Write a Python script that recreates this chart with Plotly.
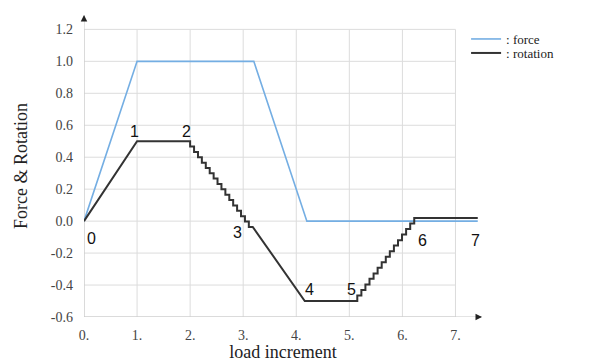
import plotly.graph_objects as go

# ---- data ----
x_ticks = [0, 1, 2, 3, 4, 5, 6, 7]
x_tick_labels = ["0.", "1.", "2.", "3.", "4.", "5.", "6.", "7."]
y_ticks = [-0.6, -0.4, -0.2, 0.0, 0.2, 0.4, 0.6, 0.8, 1.0, 1.2]
y_tick_labels = ["-0.6", "-0.4", "-0.2", "0.0", "0.2", "0.4", "0.6", "0.8", "1.0", "1.2"]

force_x = [0.0, 1.0, 3.2, 4.2, 7.42]
force_y = [0.0, 1.0, 1.0, 0.0, 0.0]

rotation_x = [0.0, 1.0, 2.0,
              2.000, 2.074, 2.074, 2.148, 2.148, 2.221, 2.221, 2.295,
              2.295, 2.369, 2.369, 2.443, 2.443, 2.516, 2.516, 2.590,
              2.590, 2.664, 2.664, 2.738, 2.738, 2.811, 2.811, 2.885,
              2.885, 2.959, 2.959, 3.033, 3.033, 3.106, 3.106, 3.180,
              4.16, 5.15,
              5.150, 5.227, 5.227, 5.303, 5.303, 5.380, 5.380, 5.457,
              5.457, 5.533, 5.533, 5.610, 5.610, 5.687, 5.687, 5.763,
              5.763, 5.840, 5.840, 5.917, 5.917, 5.993, 5.993, 6.070,
              6.070, 6.147, 6.147, 6.223, 6.223, 6.300,
              7.42]
rotation_y = [0.0, 0.5, 0.5,
              0.467, 0.467, 0.433, 0.433, 0.400, 0.400, 0.366, 0.366,
              0.333, 0.333, 0.299, 0.299, 0.266, 0.266, 0.232, 0.232,
              0.199, 0.199, 0.165, 0.165, 0.132, 0.132, 0.098, 0.098,
              0.065, 0.065, 0.031, 0.031, -0.002, -0.002, -0.036, -0.036,
              -0.50, -0.50,
              -0.465, -0.465, -0.431, -0.431, -0.396, -0.396, -0.361, -0.361,
              -0.327, -0.327, -0.292, -0.292, -0.257, -0.257, -0.223, -0.223,
              -0.188, -0.188, -0.153, -0.153, -0.119, -0.119, -0.084, -0.084,
              -0.049, -0.049, -0.015, -0.015, 0.020, 0.020,
              0.020]

point_labels = ["0", "1", "2", "3", "4", "5", "6", "7"]
point_label_x = [0.14, 0.95, 1.93, 2.90, 4.25, 5.05, 6.37, 7.37]
point_label_y = [-0.11, 0.56, 0.56, -0.07, -0.43, -0.43, -0.12, -0.12]

X_MAX = 7.5
Y_MAX = 1.29
SERIF = "Liberation Serif"
SANS = "Liberation Sans"

fig = go.Figure()

fig.add_trace(go.Scatter(x=force_x, y=force_y, mode="lines", name=": force", legend="legend",
                         line=dict(color="#74aee3", width=1.6), cliponaxis=False))
fig.add_trace(go.Scatter(x=rotation_x, y=rotation_y, mode="lines", name=": rotation", legend="legend2",
                         line=dict(color="#333333", width=2), cliponaxis=False))

shapes = []
for xv in x_ticks:
    shapes.append(dict(type="line", xref="x", yref="y", x0=xv, x1=xv,
                       y0=y_ticks[0], y1=y_ticks[-1], layer="below",
                       line=dict(color="#dcdcdc", width=1)))
for yv in y_ticks:
    shapes.append(dict(type="line", xref="x", yref="y", x0=x_ticks[0], x1=x_ticks[-1],
                       y0=yv, y1=yv, layer="below",
                       line=dict(color="#dcdcdc", width=1)))
# axis lines
shapes.append(dict(type="line", xref="x", yref="y", x0=0, x1=X_MAX, y0=y_ticks[0], y1=y_ticks[0],
                   layer="below", line=dict(color="#c8c8c8", width=1)))
shapes.append(dict(type="line", xref="x", yref="y", x0=0, x1=0, y0=y_ticks[0], y1=Y_MAX,
                   layer="below", line=dict(color="#c8c8c8", width=1)))

annotations = []
for t, xv, yv in zip(point_labels, point_label_x, point_label_y):
    annotations.append(dict(x=xv, y=yv, xref="x", yref="y", text=t, showarrow=False,
                            font=dict(family=SANS, size=16, color="#111111")))
# arrow heads
annotations.append(dict(x=X_MAX, y=y_ticks[0], xref="x", yref="y", ax=-7, ay=0,
                        axref="pixel", ayref="pixel", text="", showarrow=True,
                        arrowhead=2, arrowsize=1, arrowwidth=1.3, arrowcolor="#222222"))
annotations.append(dict(x=0, y=Y_MAX, xref="x", yref="y", ax=0, ay=7,
                        axref="pixel", ayref="pixel", text="", showarrow=True,
                        arrowhead=2, arrowsize=1, arrowwidth=1.3, arrowcolor="#222222"))

legend_common = dict(xanchor="left", yanchor="middle", bgcolor="rgba(0,0,0,0)",
                     font=dict(family=SERIF, size=13, color="#222222"), itemwidth=30)

# the page body adds an 8px offset, so the figure is sized 8px smaller
fig.update_layout(
    width=581, height=354,
    margin=dict(l=76, r=107, t=7, b=45, autoexpand=False),
    paper_bgcolor="white", plot_bgcolor="white",
    shapes=shapes, annotations=annotations,
    showlegend=True,
    legend=dict(x=0.96, y=(309 - 31) / 302, **legend_common),
    legend2=dict(x=0.96, y=(309 - 45) / 302, **legend_common),
    xaxis=dict(range=[0, X_MAX], showgrid=False, zeroline=False, showline=False, automargin=False,
               tickmode="array", tickvals=x_ticks, ticktext=x_tick_labels, ticks="",
               ticklabelstandoff=8,
               tickfont=dict(family=SERIF, size=14, color="#444444"),
               title=dict(text="load increment", font=dict(family=SERIF, size=18, color="#222222"),
                          standoff=3)),
    yaxis=dict(range=[y_ticks[0], Y_MAX], showgrid=False, zeroline=False, showline=False, automargin=False,
               tickmode="array", tickvals=y_ticks, ticktext=y_tick_labels, ticks="",
               ticklabelstandoff=10,
               tickfont=dict(family=SERIF, size=14, color="#444444"),
               title=dict(text="Force & Rotation", font=dict(family=SERIF, size=18, color="#222222"),
                          standoff=18)),
)

fig.write_html("out.html")
